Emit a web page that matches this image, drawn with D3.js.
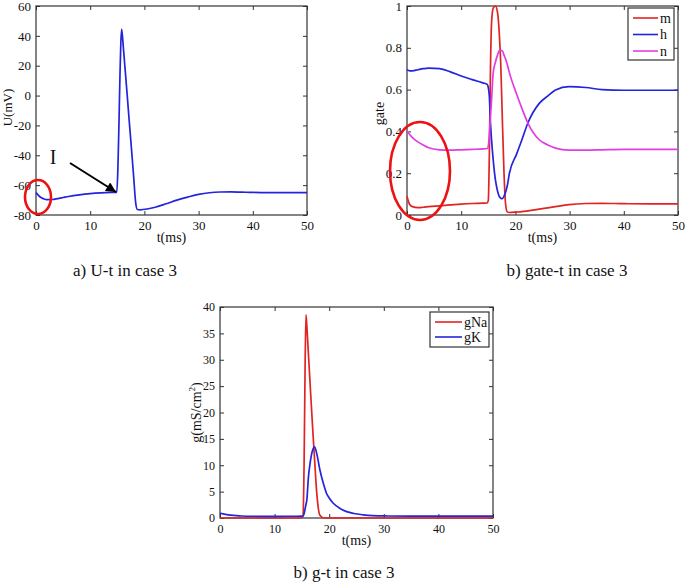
<!DOCTYPE html>
<html>
<head>
<meta charset="utf-8">
<script src="https://cdn.jsdelivr.net/npm/d3@7"></script>
<style>
  body { margin: 0; background: #fff; }
  svg { display: block; }
  svg text { font-family: "Liberation Serif", "Times New Roman", serif; }
</style>
</head>
<body>
<svg id="fig" width="685" height="584"></svg>
<script>
// Dados (HH, caso 3)

// a) U-t
const tU = [0, 0.5, 1, 1.5, 2, 3, 4, 5, 6, 8, 10, 12, 14, 14.9, 15.1, 15.3, 15.5, 15.65, 15.8,
  16.1, 16.4, 16.8, 17.2, 17.6, 18, 18.4, 18.7, 19.2, 20.5, 22, 24, 26, 28, 30, 32, 34, 36, 38, 40, 45, 50];
const uValues = [-65, -67, -68.5, -69.3, -69.7, -69.6, -69, -68.3, -67.6, -66.5, -65.7, -65.2, -64.9,
  -64.8, -50, -20, 15, 35, 44.5, 33, 19.5, 1.5, -17, -35, -53.5, -72, -76.3, -76.5,
  -76, -74.8, -72.5, -70, -68, -66.2, -65.1, -64.6, -64.5, -64.7, -64.9, -65, -65];

// b) gate-t
const tGate = [0, 0.5, 1, 2, 3, 4, 6, 8, 10, 12, 14, 14.8, 15.0, 15.2, 15.4, 15.6, 15.9, 16.3, 16.7, 17.0,
  17.3, 17.6, 17.9, 18.2, 18.5, 18.9, 20.2, 21.2, 22.3, 24.4, 26, 27.4, 29.9, 33, 36, 40, 45, 50];
const mValues = [0.09, 0.05, 0.04, 0.035, 0.037, 0.04, 0.044, 0.048, 0.052, 0.055,
  0.057, 0.058, 0.07, 0.3, 0.7, 0.92, 0.99, 1.0, 0.97, 0.88,
  0.72, 0.45, 0.2, 0.05, 0.015, 0.012, 0.014, 0.016, 0.02, 0.028,
  0.034, 0.04, 0.05, 0.055, 0.056, 0.054, 0.053, 0.053];
const hValues = [0.695, 0.69, 0.69, 0.695, 0.70, 0.703, 0.70, 0.685, 0.665, 0.648,
  0.632, 0.625, 0.61, 0.565, 0.44, 0.36, 0.265, 0.17, 0.115, 0.09,
  0.08, 0.078, 0.09, 0.11, 0.14, 0.2, 0.29, 0.36, 0.44, 0.534,
  0.57, 0.598, 0.614, 0.61, 0.6, 0.597, 0.597, 0.597];
const nValues = [0.4, 0.385, 0.37, 0.35, 0.335, 0.322, 0.312, 0.31, 0.312, 0.314,
  0.316, 0.318, 0.33, 0.39, 0.47, 0.55, 0.68, 0.73, 0.765, 0.785,
  0.788, 0.785, 0.765, 0.745, 0.72, 0.68, 0.58, 0.51, 0.44, 0.36,
  0.335, 0.32, 0.31, 0.31, 0.312, 0.314, 0.314, 0.314];

// c) g-t
const tCond = [0, 1, 2, 3, 4, 6, 8, 10, 12, 14, 15, 15.2, 15.4, 15.6, 15.75, 15.9, 16.2, 16.5, 17, 17.3,
  17.7, 18.3, 19, 19.5, 20, 20.75, 22, 23.2, 24.5, 26.2, 28, 30.7, 35, 40, 45, 50];
const gNaValues = [0, 0, 0, 0, 0, 0, 0, 0, 0, 0,
  0.1, 0.3, 10, 30, 38.5, 36.5, 31, 25.5, 16.5, 11.5,
  5, 0.5, 0, 0, 0, 0, 0, 0, 0, 0,
  0, 0, 0, 0, 0, 0];
const gKValues = [0.9, 0.7, 0.55, 0.45, 0.38, 0.33, 0.32, 0.32, 0.33, 0.33,
  0.35, 0.38, 0.8, 1.8, 2.6, 3.4, 7.8, 10.4, 13, 13.5,
  12.3, 9.1, 6.3, 4.7, 3.8, 2.8, 1.8, 1.2, 0.85, 0.6,
  0.45, 0.38, 0.34, 0.34, 0.35, 0.35];

// Ticks
const tTicks = [0, 10, 20, 30, 40, 50];
const uTicks = [-80, -60, -40, -20, 0, 20, 40, 60];
const gateTicks = [0, 0.2, 0.4, 0.6, 0.8, 1];
const condTicks = [0, 5, 10, 15, 20, 25, 30, 35, 40];

const RED = '#e02424';
const BLUE = '#2424dc';
const MAGENTA = '#e23de2';
const FONT = '"Liberation Serif", "Times New Roman", serif';

const svg = d3.select('#fig');

// Formato MATLAB: hífen simples, sem zeros extras
const fmt = d => String(d);

/**
 * Desenha um painel no estilo MATLAB (caixa, ticks para dentro)
 */
function drawPanel(cfg) {
  const x = d3.scaleLinear().domain([0, 50]).range([cfg.left, cfg.right]);
  const y = d3.scaleLinear().domain(cfg.yDomain).range([cfg.bottom, cfg.top]);
  const g = svg.append('g');
  const fs = cfg.tickFont || 13;

  const axisStyle = sel => {
    sel.attr('font-family', null).attr('font-size', null);
    sel.select('.domain').remove();
    sel.selectAll('line').attr('stroke', '#333');
    sel.selectAll('text').style('font-family', FONT)
      .style('font-size', fs + 'px').attr('fill', '#111');
  };
  g.append('g').attr('transform', `translate(0,${cfg.bottom})`)
    .call(d3.axisBottom(x).tickValues(tTicks).tickFormat(fmt).tickSizeInner(-4).tickSizeOuter(0).tickPadding(6))
    .call(axisStyle);
  g.append('g').attr('transform', `translate(0,${cfg.top})`)
    .call(d3.axisTop(x).tickValues(tTicks).tickSizeInner(-4).tickSizeOuter(0).tickFormat(''))
    .call(axisStyle);
  g.append('g').attr('transform', `translate(${cfg.left},0)`)
    .call(d3.axisLeft(y).tickValues(cfg.yTicks).tickFormat(fmt).tickSizeInner(-4).tickSizeOuter(0).tickPadding(5))
    .call(axisStyle);
  g.append('g').attr('transform', `translate(${cfg.right},0)`)
    .call(d3.axisRight(y).tickValues(cfg.yTicks).tickSizeInner(-4).tickSizeOuter(0).tickFormat(''))
    .call(axisStyle);

  // Caixa
  g.append('rect')
    .attr('x', cfg.left).attr('y', cfg.top)
    .attr('width', cfg.right - cfg.left).attr('height', cfg.bottom - cfg.top)
    .attr('fill', 'none').attr('stroke', '#333').attr('stroke-width', 1.2);

  // Curvas
  cfg.series.forEach(s => {
    const pts = s.t.map((t, i) => [t, s.v[i]]);
    g.append('path')
      .datum(pts)
      .attr('fill', 'none')
      .attr('stroke', s.color)
      .attr('stroke-width', 1.7)
      .attr('stroke-linejoin', 'round')
      .attr('d', d3.line().x(d => x(d[0])).y(d => y(d[1])).curve(d3.curveMonotoneX));
  });

  // Labels dos eixos
  g.append('text')
    .attr('x', (cfg.left + cfg.right) / 2).attr('y', cfg.bottom + 27)
    .attr('text-anchor', 'middle').style('font-size', '14px').attr('fill', '#111')
    .text('t(ms)');
  const yl = g.append('text')
    .attr('transform', `translate(${cfg.yLabelX},${(cfg.top + cfg.bottom) / 2 + (cfg.yLabelDy || 0)}) rotate(-90)`)
    .attr('text-anchor', 'middle').style('font-size', (cfg.yLabelFont || 14) + 'px').attr('fill', '#111');
  if (cfg.yLabelSup) {
    yl.append('tspan').text(cfg.yLabel);
    yl.append('tspan').attr('dy', -6).style('font-size', '9px').text(cfg.yLabelSup);
    yl.append('tspan').attr('dy', 6).text(')');
  } else {
    yl.text(cfg.yLabel);
  }

  // Legenda
  if (cfg.legend) {
    const L = cfg.legend;
    g.append('rect')
      .attr('x', L.x).attr('y', L.y).attr('width', L.w).attr('height', L.h)
      .attr('fill', '#fff').attr('stroke', '#333').attr('stroke-width', 1.2);
    cfg.series.forEach((s, i) => {
      const yy = L.y + L.first + i * L.step;
      g.append('line')
        .attr('x1', L.x + 5).attr('x2', L.x + 5 + L.len)
        .attr('y1', yy).attr('y2', yy)
        .attr('stroke', s.color).attr('stroke-width', 1.6);
      g.append('text')
        .attr('x', L.x + 7 + L.len).attr('y', yy + 4.5)
        .style('font-size', '14px').attr('fill', '#111')
        .text(s.name);
    });
  }
  return { x, y, g };
}

// a) U-t
drawPanel({
  left: 36, right: 307, top: 6, bottom: 215,
  yDomain: [-80, 60], yTicks: uTicks, tickFont: 13,
  yLabel: 'U(mV)', yLabelX: 12, yLabelDy: -3, yLabelFont: 13,
  series: [{ name: 'U', t: tU, v: uValues, color: BLUE }]
});

// Círculo vermelho e seta (anotações)
svg.append('ellipse')
  .attr('cx', 38).attr('cy', 197).attr('rx', 13).attr('ry', 17)
  .attr('fill', 'none').attr('stroke', '#ee1111').attr('stroke-width', 2.6);
svg.append('defs').append('marker')
  .attr('id', 'arrow').attr('viewBox', '0 0 10 10').attr('refX', 10).attr('refY', 5)
  .attr('markerWidth', 6).attr('markerHeight', 5).attr('markerUnits', 'strokeWidth')
  .attr('orient', 'auto')
  .append('path').attr('d', 'M0,0 L10,5 L0,10 Z').attr('fill', '#000');
svg.append('line')
  .attr('x1', 70).attr('y1', 163).attr('x2', 116).attr('y2', 192)
  .attr('stroke', '#000').attr('stroke-width', 2).attr('marker-end', 'url(#arrow)');
svg.append('text')
  .attr('x', 53).attr('y', 164).attr('text-anchor', 'middle')
  .style('font-size', '20px').attr('fill', '#111').text('I');

// b) gate-t
drawPanel({
  left: 407, right: 678, top: 6, bottom: 215,
  yDomain: [0, 1], yTicks: gateTicks, tickFont: 13,
  yLabel: 'gate', yLabelX: 384, yLabelDy: 3,
  legend: { x: 628, y: 8, w: 46, h: 52, first: 10, step: 16.5, len: 25 },
  series: [
    { name: 'm', t: tGate, v: mValues, color: RED },
    { name: 'h', t: tGate, v: hValues, color: BLUE },
    { name: 'n', t: tGate, v: nValues, color: MAGENTA }
  ]
});
svg.append('ellipse')
  .attr('cx', 420).attr('cy', 171).attr('rx', 30).attr('ry', 49)
  .attr('fill', 'none').attr('stroke', '#ee1111').attr('stroke-width', 2.6);

// c) g-t
drawPanel({
  left: 220, right: 493, top: 307, bottom: 518,
  yDomain: [0, 40], yTicks: condTicks, tickFont: 12,
  yLabel: 'g(mS/cm', yLabelSup: '2', yLabelX: 201, yLabelDy: 0,
  legend: { x: 430, y: 312, w: 59, h: 35, first: 10, step: 15, len: 27 },
  series: [
    { name: 'gNa', t: tCond, v: gNaValues, color: RED },
    { name: 'gK', t: tCond, v: gKValues, color: BLUE }
  ]
});

// Legendas das figuras
const captions = [
  { text: 'a) U-t in case 3', x: 125, y: 276 },
  { text: 'b) gate-t in case 3', x: 567, y: 276 },
  { text: 'b) g-t in case 3', x: 344, y: 578 }
];
svg.selectAll('.caption')
  .data(captions)
  .enter()
  .append('text')
  .attr('class', 'caption')
  .attr('x', d => d.x).attr('y', d => d.y)
  .attr('text-anchor', 'middle')
  .style('font-size', '17px').attr('fill', '#111')
  .text(d => d.text);
</script>
</body>
</html>
